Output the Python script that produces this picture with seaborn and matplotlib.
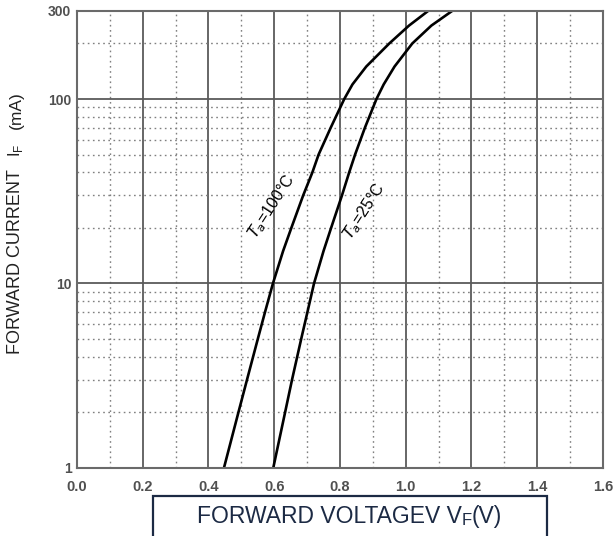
import pandas as pd
import seaborn as sns
import matplotlib.pyplot as plt
from matplotlib.patches import Rectangle
from matplotlib.ticker import FixedLocator, NullFormatter

# forward current (mA) vs forward voltage (V)
i_100 = [1, 2, 3, 5, 7, 10, 15, 20, 30, 40, 50, 70, 100, 120, 150, 200, 250, 300]
v_100 = [0.447, 0.491, 0.517, 0.550, 0.572, 0.596, 0.627, 0.652, 0.688, 0.716, 0.735, 0.772,
         0.813, 0.838, 0.880, 0.950, 1.010, 1.068]
i_25 = [1, 2, 3, 5, 7, 10, 15, 20, 30, 40, 50, 70, 100, 120, 150, 200, 250, 300]
v_25 = [0.597, 0.633, 0.654, 0.682, 0.701, 0.721, 0.750, 0.773, 0.806, 0.828, 0.846, 0.876,
        0.911, 0.933, 0.966, 1.020, 1.078, 1.141]

x_major = [0.0, 0.2, 0.4, 0.6, 0.8, 1.0, 1.2, 1.4, 1.6]
x_minor = [0.1, 0.3, 0.5, 0.7, 0.9, 1.1, 1.3, 1.5]
y_major = [1, 10, 100, 300]
y_minor = [2, 3, 4, 5, 6, 7, 8, 9, 20, 30, 40, 50, 60, 70, 80, 90, 200]

df = pd.concat([
    pd.DataFrame({"vf": v_100, "if": i_100, "temp": "100"}),
    pd.DataFrame({"vf": v_25, "if": i_25, "temp": "25"}),
])

sns.set_style("white")
plt.rcParams['font.family'] = ['Liberation Sans', 'DejaVu Sans']

fig = plt.figure(figsize=(6.14, 5.36), dpi=100)
ax = fig.add_axes([0.1254, 0.1269, 0.8566, 0.8526])

sns.lineplot(data=df, x="vf", y="if", units="temp", estimator=None, sort=False,
             color="black", lw=1.9, ax=ax)

ax.set_yscale("log")
ax.set_xlim(0, 1.6)
ax.set_ylim(1, 300)

ax.xaxis.set_major_locator(FixedLocator(x_major))
ax.xaxis.set_minor_locator(FixedLocator(x_minor))
ax.yaxis.set_major_locator(FixedLocator(y_major))
ax.yaxis.set_minor_locator(FixedLocator(y_minor))
ax.set_xticklabels([f"{v:.1f}" for v in x_major])
ax.set_yticklabels([str(v) for v in y_major])
ax.yaxis.set_minor_formatter(NullFormatter())
ax.tick_params(which="both", length=0)
ax.tick_params(axis="x", labelsize=10.5, labelcolor="#505050", pad=9)
ax.tick_params(axis="y", labelsize=10, labelcolor="#505050", pad=4)
for lab in ax.get_xticklabels() + ax.get_yticklabels():
    lab.set_fontweight("bold")

ax.grid(which="major", color="#5a5a5a", lw=1.3, ls="-")
ax.grid(which="minor", color="#808080", lw=1.0, ls=(0, (1.2, 2.5)))
ax.set_axisbelow(True)
for s in ax.spines.values():
    s.set_color("#6a6a6a")
    s.set_linewidth(1.5)

ax.set_xlabel("")
ax.set_ylabel("")

# curve labels
ax.text(0.592, 26, "$T_a$=100°C", rotation=57, ha="center", va="center",
        fontsize=11.5, color="black")
ax.text(0.874, 24.5, "$T_a$=25°C", rotation=57, ha="center", va="center",
        fontsize=11.5, color="black")

# y axis label, three pieces
ylab_color = "#222222"
fig.text(0.026, (536 - 262) / 536, "FORWARD CURRENT", rotation=90,
         ha="center", va="center", fontsize=13, color=ylab_color)
fig.text(0.026, (536 - 150) / 536, "I$_\\mathregular{F}$", rotation=90,
         ha="center", va="center", fontsize=12, color=ylab_color)
fig.text(0.026, (536 - 110) / 536, "(mA)", rotation=90,
         ha="center", va="center", fontsize=12.5, color=ylab_color)

# boxed x axis label
navy = "#1c2a44"
fig.patches.append(Rectangle((153 / 614, -0.05), (547 - 153) / 614, 0.05 + (536 - 496) / 536,
                             transform=fig.transFigure, fill=False, edgecolor=navy, lw=1.6))
t1 = fig.text(197 / 614, (536 - 528) / 536, "FORWARD VOLTAGEV V", fontsize=16.5,
              color=navy, ha="left", va="bottom")
a1 = ax.annotate("F", xy=(1, 0), xycoords=t1, ha="left", va="bottom",
                 fontsize=12, color=navy, annotation_clip=False)
ax.annotate("(V)", xy=(1, 0), xycoords=a1, ha="left", va="bottom",
            fontsize=16.5, color=navy, annotation_clip=False)

fig.savefig("out.png", dpi=100)
